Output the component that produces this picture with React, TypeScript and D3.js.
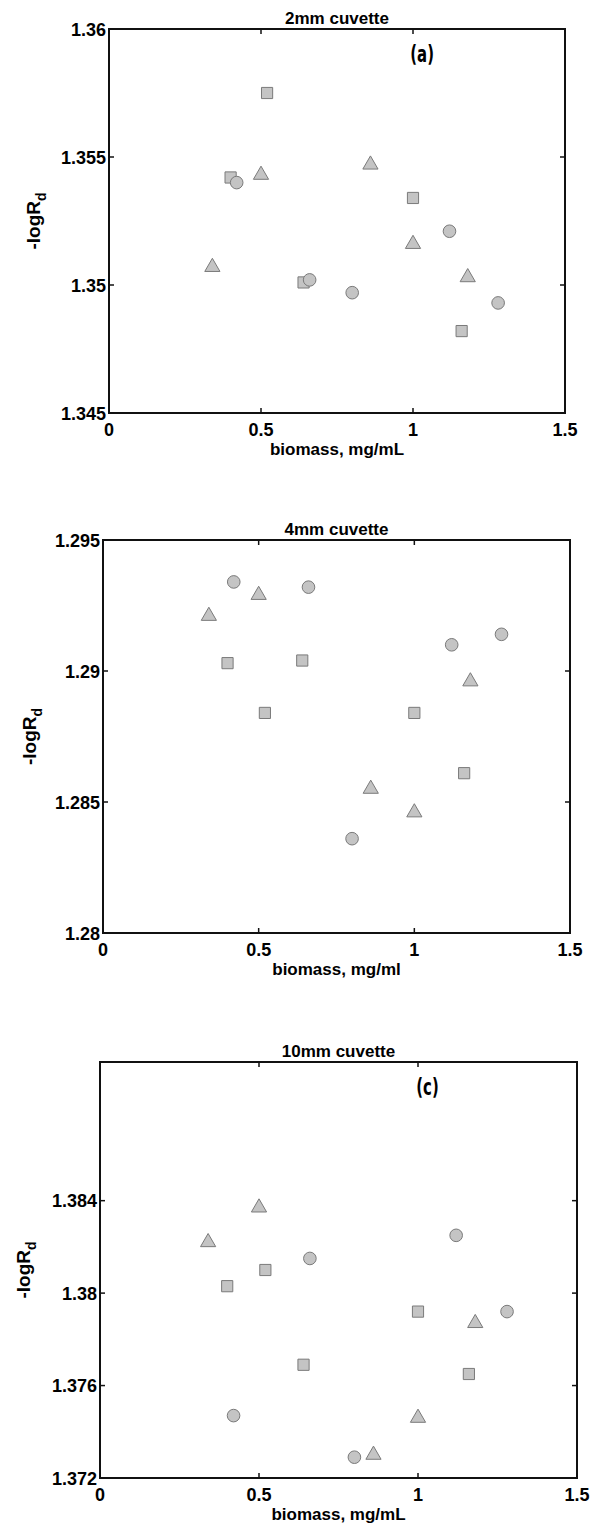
import React from "react";
import * as d3 from "d3";

const xCircle = [0.42, 0.66, 0.8, 1.12, 1.28];
const xSquare = [0.4, 0.52, 0.64, 1.0, 1.16];
const xTriangle = [0.34, 0.5, 0.86, 1.0, 1.18];

const p1Circle = [1.354, 1.3502, 1.3497, 1.3521, 1.3493];
const p1Square = [1.3542, 1.3575, 1.3501, 1.3534, 1.3482];
const p1Triangle = [1.3507, 1.3543, 1.3547, 1.3516, 1.3503];

const p2Circle = [1.2934, 1.2932, 1.2836, 1.291, 1.2914];
const p2Square = [1.2903, 1.2884, 1.2904, 1.2884, 1.2861];
const p2Triangle = [1.2921, 1.2929, 1.2855, 1.2846, 1.2896];

const p3Circle = [1.3747, 1.3815, 1.3729, 1.3825, 1.3792];
const p3Square = [1.3803, 1.381, 1.3769, 1.3792, 1.3765];
const p3Triangle = [1.3822, 1.3837, 1.373, 1.3746, 1.3787];

const xTicks = [0, 0.5, 1, 1.5];
const p1YTicks = [1.345, 1.35, 1.355, 1.36];
const p2YTicks = [1.28, 1.285, 1.29, 1.295];
const p3YTicks = [1.372, 1.376, 1.38, 1.384];

const titles = ["2mm cuvette", "4mm cuvette", "10mm cuvette"];
const xLabels = ["biomass, mg/mL", "biomass, mg/ml", "biomass, mg/mL"];
const tags = ["(a)", null, "(c)"];

const FILL = "#c4c4c4";
const STROKE = "#7a7a7a";
const FONT = "Liberation Sans, Arial, sans-serif";

type PanelCfg = {
  left: number; right: number; top: number; bottom: number;
  yDomain: [number, number];
  yTicks: number[];
  circle: number[]; square: number[]; triangle: number[];
  title: string; xLabel: string; tag: string | null;
  yLabelX: number;
};

const panels: PanelCfg[] = [
  { left: 109, right: 565, top: 29, bottom: 413, yDomain: [1.345, 1.36], yTicks: p1YTicks,
    circle: p1Circle, square: p1Square, triangle: p1Triangle, title: titles[0], xLabel: xLabels[0], tag: tags[0], yLabelX: 40 },
  { left: 103, right: 570, top: 540, bottom: 933, yDomain: [1.28, 1.295], yTicks: p2YTicks,
    circle: p2Circle, square: p2Square, triangle: p2Triangle, title: titles[1], xLabel: xLabels[1], tag: tags[1], yLabelX: 36 },
  { left: 100, right: 577, top: 1062, bottom: 1478, yDomain: [1.372, 1.39], yTicks: p3YTicks,
    circle: p3Circle, square: p3Square, triangle: p3Triangle, title: titles[2], xLabel: xLabels[2], tag: tags[2], yLabelX: 30 },
];

const fmt = d3.format("~g");

function Panel({ c }: { c: PanelCfg }) {
  const x = d3.scaleLinear().domain([0, 1.5]).range([c.left, c.right]);
  const y = d3.scaleLinear().domain(c.yDomain).range([c.bottom, c.top]);
  const circ = d3.symbol().type(d3.symbolCircle).size(125)();
  const sq = d3.symbol().type(d3.symbolSquare).size(125)();
  const tri = d3.symbol().type(d3.symbolTriangle).size(100)();
  const tl = 5;
  const midX = (c.left + c.right) / 2;
  const midY = (c.top + c.bottom) / 2;
  const tx = x(1.03);
  const ty = c.top + 33;
  return (
    <g>
      <text x={midX} y={c.top - 5} textAnchor="middle" fontFamily={FONT} fontWeight="bold" fontSize={17}>{c.title}</text>
      {c.square.map((v, i) => (
        <path key={"s" + i} d={sq!} transform={`translate(${x(xSquare[i])},${y(v)})`} fill={FILL} stroke={STROKE} strokeWidth={1} />
      ))}
      {c.circle.map((v, i) => (
        <path key={"c" + i} d={circ!} transform={`translate(${x(xCircle[i])},${y(v)})`} fill={FILL} stroke={STROKE} strokeWidth={1} />
      ))}
      {c.triangle.map((v, i) => (
        <path key={"t" + i} d={tri!} transform={`translate(${x(xTriangle[i])},${y(v)})`} fill={FILL} stroke={STROKE} strokeWidth={1} />
      ))}
      <rect x={c.left} y={c.top} width={c.right - c.left} height={c.bottom - c.top} fill="none" stroke="#111" strokeWidth={2} />
      {xTicks.map((t) => (
        <g key={"xt" + t}>
          <line x1={x(t)} x2={x(t)} y1={c.bottom} y2={c.bottom - tl} stroke="#111" strokeWidth={1.5} />
          <line x1={x(t)} x2={x(t)} y1={c.top} y2={c.top + tl} stroke="#111" strokeWidth={1.5} />
          <text x={x(t)} y={c.bottom + 23} textAnchor="middle" fontFamily={FONT} fontWeight="bold" fontSize={18}>{fmt(t)}</text>
        </g>
      ))}
      {c.yTicks.map((t) => (
        <g key={"yt" + t}>
          <line x1={c.left} x2={c.left + tl} y1={y(t)} y2={y(t)} stroke="#111" strokeWidth={1.5} />
          <line x1={c.right} x2={c.right - tl} y1={y(t)} y2={y(t)} stroke="#111" strokeWidth={1.5} />
          <text x={c.left - 3} y={y(t) + 6.5} textAnchor="end" fontFamily={FONT} fontWeight="bold" fontSize={18}>{fmt(t)}</text>
        </g>
      ))}
      <text x={midX} y={c.bottom + 42} textAnchor="middle" fontFamily={FONT} fontWeight="bold" fontSize={17}>{c.xLabel}</text>
      <text transform={`translate(${c.yLabelX},${midY}) rotate(-90)`} textAnchor="middle" fontFamily={FONT} fontWeight="bold" fontSize={19}>
        -logR<tspan dy={6} fontSize={14}>d</tspan>
      </text>
      {c.tag && (
        <text x={tx} y={ty} textAnchor="middle" fontFamily="DejaVu Sans Condensed, DejaVu Sans, sans-serif" fontWeight="bold" fontSize={23}
          transform={`translate(${tx},${ty}) scale(0.72,1) translate(${-tx},${-ty})`}>{c.tag}</text>
      )}
    </g>
  );
}

export default function App() {
  return (
    <svg width={595} height={1529} style={{ position: "absolute", left: 0, top: 0, background: "#fff" }}>
      <rect width={595} height={1529} fill="#fff" />
      {panels.map((c, i) => (
        <Panel key={i} c={c} />
      ))}
    </svg>
  );
}
